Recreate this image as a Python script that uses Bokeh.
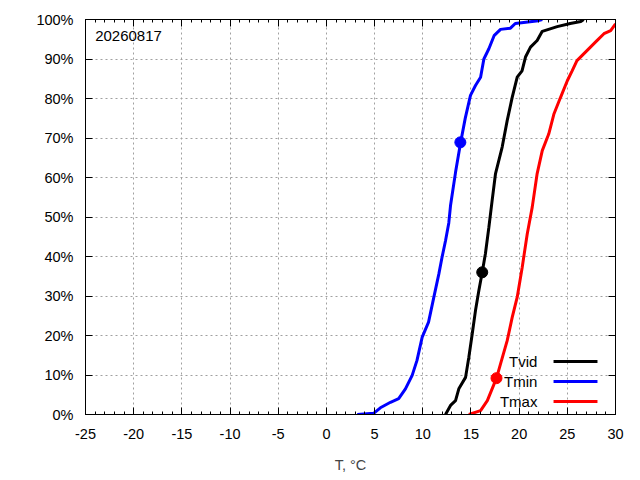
from bokeh.plotting import figure
from bokeh.models import (LinearAxis, SingleIntervalTicker, CustomJSTickFormatter,
                          Range1d, Label)
from bokeh.core.properties import value
from bokeh.embed import file_html
from bokeh.resources import INLINE

FONT = "Liberation Sans"

# ---- data ----
tvid_t = [12.36, 12.88, 13.4, 13.74, 14.44, 14.78, 15.13, 15.47, 15.82, 16.17, 16.5, 16.86,
          17.2, 17.55, 18.24, 18.76, 19.28, 19.8, 20.3, 20.66, 21.18, 21.87, 22.4, 23.95,
          25.3, 26.4, 26.7]
tvid_p = [0.0, 2.3, 3.5, 6.5, 9.4, 14.5, 20.4, 26.3, 31.4, 36.0, 40.7, 47.4,
          54.2, 61.0, 67.7, 74.4, 80.3, 85.4, 87.0, 90.5, 93.0, 94.7, 97.0, 98.2,
          99.0, 99.5, 100.0]

tmin_t = [3.2, 4.9, 5.6, 6.65, 7.5, 8.2, 8.9, 9.4, 9.94, 10.6, 11.15, 11.67, 12.0,
          12.36, 12.7, 12.88, 13.4, 13.9, 14.4, 14.95, 15.47, 16.0, 16.34, 16.86,
          17.4, 18.07, 19.1, 19.6, 22.0, 22.4]
tmin_p = [0.0, 0.3, 1.7, 3.1, 4.0, 6.5, 9.9, 13.7, 19.6, 23.4, 29.7, 35.6, 39.8,
          44.0, 48.5, 52.9, 61.3, 68.5, 74.9, 80.8, 83.3, 85.4, 90.0, 92.6,
          95.9, 97.5, 97.8, 99.0, 99.7, 100.0]

tmax_t = [14.78, 16.0, 16.7, 17.65, 18.07, 18.76, 19.28, 19.8, 20.32, 20.84, 21.36,
          21.87, 22.4, 23.07, 23.6, 24.3, 25.0, 25.5, 26.0, 26.7, 27.4, 28.1, 28.8,
          29.5, 30.0]
tmax_p = [0.0, 1.0, 3.5, 9.2, 12.8, 18.7, 24.6, 29.7, 37.3, 45.7, 52.5,
          61.0, 66.8, 71.0, 76.0, 80.3, 84.5, 87.0, 89.6, 91.3, 93.0, 94.7, 96.4,
          97.2, 98.9]

# current-day markers
mark_t = [16.17, 13.9, 17.65]
mark_p = [36.0, 68.9, 9.2]

series_names = ["Tvid", "Tmin", "Tmax"]
series_colors = ["#000000", "#0000ff", "#ff0000"]

x_ticks_interval = 5
y_ticks_interval = 10
date_label = "20260817"

p = figure(width=640, height=480, output_backend="svg", toolbar_location=None,
           x_range=Range1d(-25, 30), y_range=Range1d(0, 100),
           min_border_left=85, min_border_right=25, min_border_top=19, min_border_bottom=66)
p.background_fill_color = "white"
p.border_fill_color = "white"
p.outline_line_color = "black"
p.outline_line_width = 1

xt = SingleIntervalTicker(interval=x_ticks_interval, num_minor_ticks=5)
yt = SingleIntervalTicker(interval=y_ticks_interval, num_minor_ticks=0)

for ax in [p.xaxis[0], p.yaxis[0]]:
    ax.axis_line_color = "black"
    ax.major_tick_in = 7
    ax.major_tick_out = 0
    ax.minor_tick_in = 3
    ax.minor_tick_out = 0
    ax.major_tick_line_color = "black"
    ax.minor_tick_line_color = "black"
    ax.major_label_text_font = FONT
    ax.major_label_text_font_size = "14.5px"
    ax.major_label_text_color = "black"

p.xaxis[0].ticker = xt
p.yaxis[0].ticker = yt
p.xaxis[0].formatter = CustomJSTickFormatter(code="return String(Math.round(tick));")
p.yaxis[0].formatter = CustomJSTickFormatter(code="return Math.round(tick) + '%';")
p.xaxis[0].major_label_standoff = 14
p.yaxis[0].major_label_standoff = 12
p.xaxis[0].axis_label = "T, °C"
p.xaxis[0].axis_label_text_font = FONT
p.xaxis[0].axis_label_text_font_size = "14.5px"
p.xaxis[0].axis_label_text_font_style = "normal"
p.xaxis[0].axis_label_standoff = 15

blank = CustomJSTickFormatter(code="return '';")
top = LinearAxis(ticker=SingleIntervalTicker(interval=x_ticks_interval, num_minor_ticks=5),
                 major_tick_in=7, major_tick_out=0, minor_tick_in=3, minor_tick_out=0,
                 formatter=blank, major_label_standoff=0,
                 axis_line_color="black")
right = LinearAxis(ticker=SingleIntervalTicker(interval=y_ticks_interval, num_minor_ticks=0),
                   major_tick_in=7, major_tick_out=0, minor_tick_in=0, minor_tick_out=0,
                   formatter=blank, major_label_standoff=0,
                   axis_line_color="black")
p.add_layout(top, "above")
p.add_layout(right, "right")

p.xgrid.ticker = xt
p.ygrid.ticker = yt
for g in [p.xgrid[0], p.ygrid[0]]:
    g.grid_line_color = "#a0a0a0"
    g.grid_line_dash = "2 3"
    g.grid_line_width = 1

curves = [(tvid_t, tvid_p), (tmin_t, tmin_p), (tmax_t, tmax_p)]
for (t, pc), c in zip(curves, series_colors):
    p.line(t, pc, line_color=c, line_width=3)

for t, pc, c in zip(mark_t, mark_p, series_colors):
    p.scatter([t], [pc], marker="circle", size=11, fill_color=c, line_color=c)

# legend (gnuplot style: text then sample line)
leg_text_x = 21.9
leg_line_x0 = 23.57
leg_line_x1 = 28.13
leg_rows = [13.4, 8.35, 3.3]
p.text(x=[leg_text_x] * 3, y=leg_rows, text=series_names,
       text_font=value(FONT), text_font_size="15px", text_align="right",
       text_baseline="middle", text_color="black")
p.segment(x0=[leg_line_x0] * 3, x1=[leg_line_x1] * 3, y0=leg_rows, y1=leg_rows,
          line_color=series_colors, line_width=3)

p.add_layout(Label(x=-24.0, y=95.9, text=date_label, text_font=FONT,
                   text_font_size="15px", text_baseline="middle", text_align="left",
                   text_color="black"))

open("out.html", "w").write(file_html(p, INLINE))
